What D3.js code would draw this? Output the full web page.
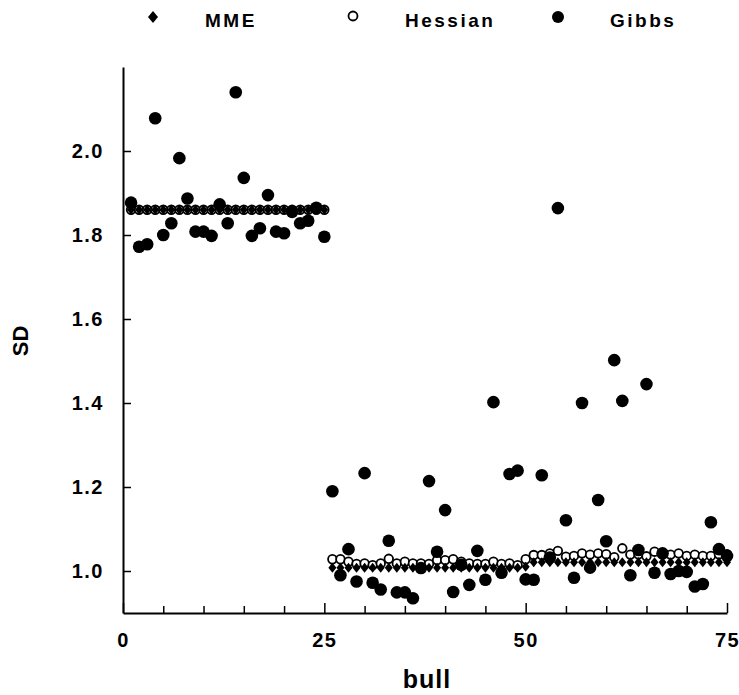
<!DOCTYPE html>
<html><head><meta charset="utf-8">
<script src="https://cdn.jsdelivr.net/npm/d3@7"></script>
<style>body{margin:0;background:#fff;}svg{display:block;}</style>
</head><body>
<svg id="chart" width="739" height="695"></svg>
<script>
const bulls = d3.range(1, 76);
const mme = [
  1.86,1.86,1.86,1.86,1.86,1.86,1.86,1.86,1.86,1.86,1.86,1.86,1.86,1.86,1.86,1.86,1.86,1.86,1.86,1.86,1.86,1.86,1.86,1.86,1.86,
  1.008,1.008,1.008,1.008,1.008,1.008,1.008,1.008,1.008,1.008,1.008,1.008,1.008,1.008,1.008,1.008,1.008,1.008,1.008,1.008,1.008,1.008,1.008,1.008,1.010,
  1.021,1.021,1.021,1.021,1.021,1.021,1.021,1.021,1.021,1.021,1.021,1.021,1.021,1.021,1.021,1.021,1.021,1.021,1.021,1.021,1.021,1.021,1.021,1.021,1.021
];
const hessian = [
  1.86,1.86,1.86,1.86,1.86,1.86,1.86,1.86,1.86,1.86,1.86,1.86,1.86,1.86,1.86,1.86,1.86,1.86,1.86,1.86,1.86,1.86,1.86,1.86,1.86,
  1.028,1.028,1.022,1.017,1.018,1.014,1.018,1.029,1.018,1.022,1.018,1.018,1.017,1.026,1.026,1.028,1.022,1.018,1.017,1.017,1.022,1.017,1.018,1.014,1.028,
  1.038,1.038,1.042,1.048,1.034,1.036,1.042,1.039,1.042,1.040,1.033,1.054,1.039,1.040,1.035,1.046,1.040,1.039,1.042,1.036,1.039,1.036,1.036,1.040,1.040
];
const gibbs = [
  1.877,1.772,1.778,2.078,1.800,1.828,1.983,1.887,1.808,1.808,1.798,1.873,1.828,2.140,1.936,1.798,1.816,1.895,1.808,1.804,1.855,1.828,1.834,1.865,1.796,
  1.190,0.990,1.052,0.975,1.233,0.972,0.956,1.072,0.949,0.949,0.935,1.007,1.214,1.046,1.145,0.950,1.015,0.967,1.048,0.979,1.402,0.996,1.231,1.239,0.980,
  0.979,1.228,1.032,1.864,1.121,0.984,1.400,1.008,1.169,1.071,1.502,1.405,0.990,1.050,1.445,0.996,1.042,0.993,1.000,0.998,0.963,0.969,1.116,1.052,1.036
];
const xTicks = [0, 25, 50, 75];
const yTicks = [1.0, 1.2, 1.4, 1.6, 1.8, 2.0];
const legendItems = ["MME", "Hessian", "Gibbs"];

const svg = d3.select("#chart");
const x = d3.scaleLinear().domain([0, 75]).range([123, 727]);
const y = d3.scaleLinear().domain([0.9, 2.2]).range([613, 67]);
const font = "'Liberation Sans', Arial, sans-serif";

// axes
const xAxis = svg.append("g").attr("transform", "translate(0,613)")
  .call(d3.axisBottom(x).tickValues(xTicks).tickSizeInner(-10).tickSizeOuter(0).tickPadding(20).tickFormat(d3.format("d")));
const xMinor = svg.append("g").attr("transform", "translate(0,613)")
  .call(d3.axisBottom(x).tickValues(d3.range(5, 75, 5).filter(v => v % 25 !== 0)).tickSizeInner(-7).tickSizeOuter(0).tickFormat(""));
xMinor.select(".domain").remove();
const yAxis = svg.append("g").attr("transform", "translate(123,0)")
  .call(d3.axisLeft(y).tickValues(yTicks).tickSizeInner(-8).tickSizeOuter(0).tickPadding(19).tickFormat(d3.format(".1f")));
[xAxis, xMinor, yAxis].forEach(g => {
  g.selectAll(".domain").attr("stroke", "#000").attr("stroke-width", 2);
  g.selectAll(".tick line").attr("stroke", "#000").attr("stroke-width", 1.5);
  g.selectAll("text").attr("fill", "#000").style("font-family", font).style("font-size", "20px")
    .style("font-weight", "bold").style("letter-spacing", "1.5px");
});
xAxis.selectAll("text").attr("dy", "0.71em");

// marks: Hessian, then MME on top, then Gibbs
svg.append("g").selectAll("circle").data(bulls).join("circle")
  .attr("cx", d => x(d)).attr("cy", (d, i) => y(hessian[i])).attr("r", 4.3)
  .attr("fill", "#fff").attr("stroke", "#000").attr("stroke-width", 1.8);
svg.append("g").selectAll("path").data(bulls).join("path")
  .attr("transform", (d, i) => `translate(${x(d)},${y(mme[i])})`)
  .attr("d", "M0,-5L4,0L0,5L-4,0Z").attr("fill", "#000");
svg.append("g").selectAll("circle").data(bulls).join("circle")
  .attr("cx", d => x(d)).attr("cy", (d, i) => y(gibbs[i])).attr("r", 6.3)
  .attr("fill", "#000");

// axis titles
svg.append("text").attr("x", 427).attr("y", 688).attr("text-anchor", "middle")
  .style("font-family", font).style("font-size", "25px").style("font-weight", "bold").style("letter-spacing", "1px").text("bull");
svg.append("text").attr("transform", "translate(28,341) rotate(-90)").attr("text-anchor", "middle")
  .style("font-family", font).style("font-size", "22px").style("font-weight", "bold").text("SD");

// legend
const lg = svg.append("g");
const lgX = [153, 353, 558];
const lgT = [205, 405, 610];
lg.append("path").attr("transform", `translate(${lgX[0]},17)`).attr("d", "M0,-6L5,0L0,6L-5,0Z").attr("fill", "#000");
lg.append("circle").attr("cx", lgX[1]).attr("cy", 16).attr("r", 4.5).attr("fill", "#fff").attr("stroke", "#000").attr("stroke-width", 1.8);
lg.append("circle").attr("cx", lgX[2]).attr("cy", 17).attr("r", 6).attr("fill", "#000");
legendItems.forEach((t, i) => {
  lg.append("text").attr("x", lgT[i]).attr("y", 27).style("font-family", font)
    .style("font-size", "19px").style("font-weight", "bold").style("letter-spacing", "2.5px").text(t);
});
</script>
</body></html>
